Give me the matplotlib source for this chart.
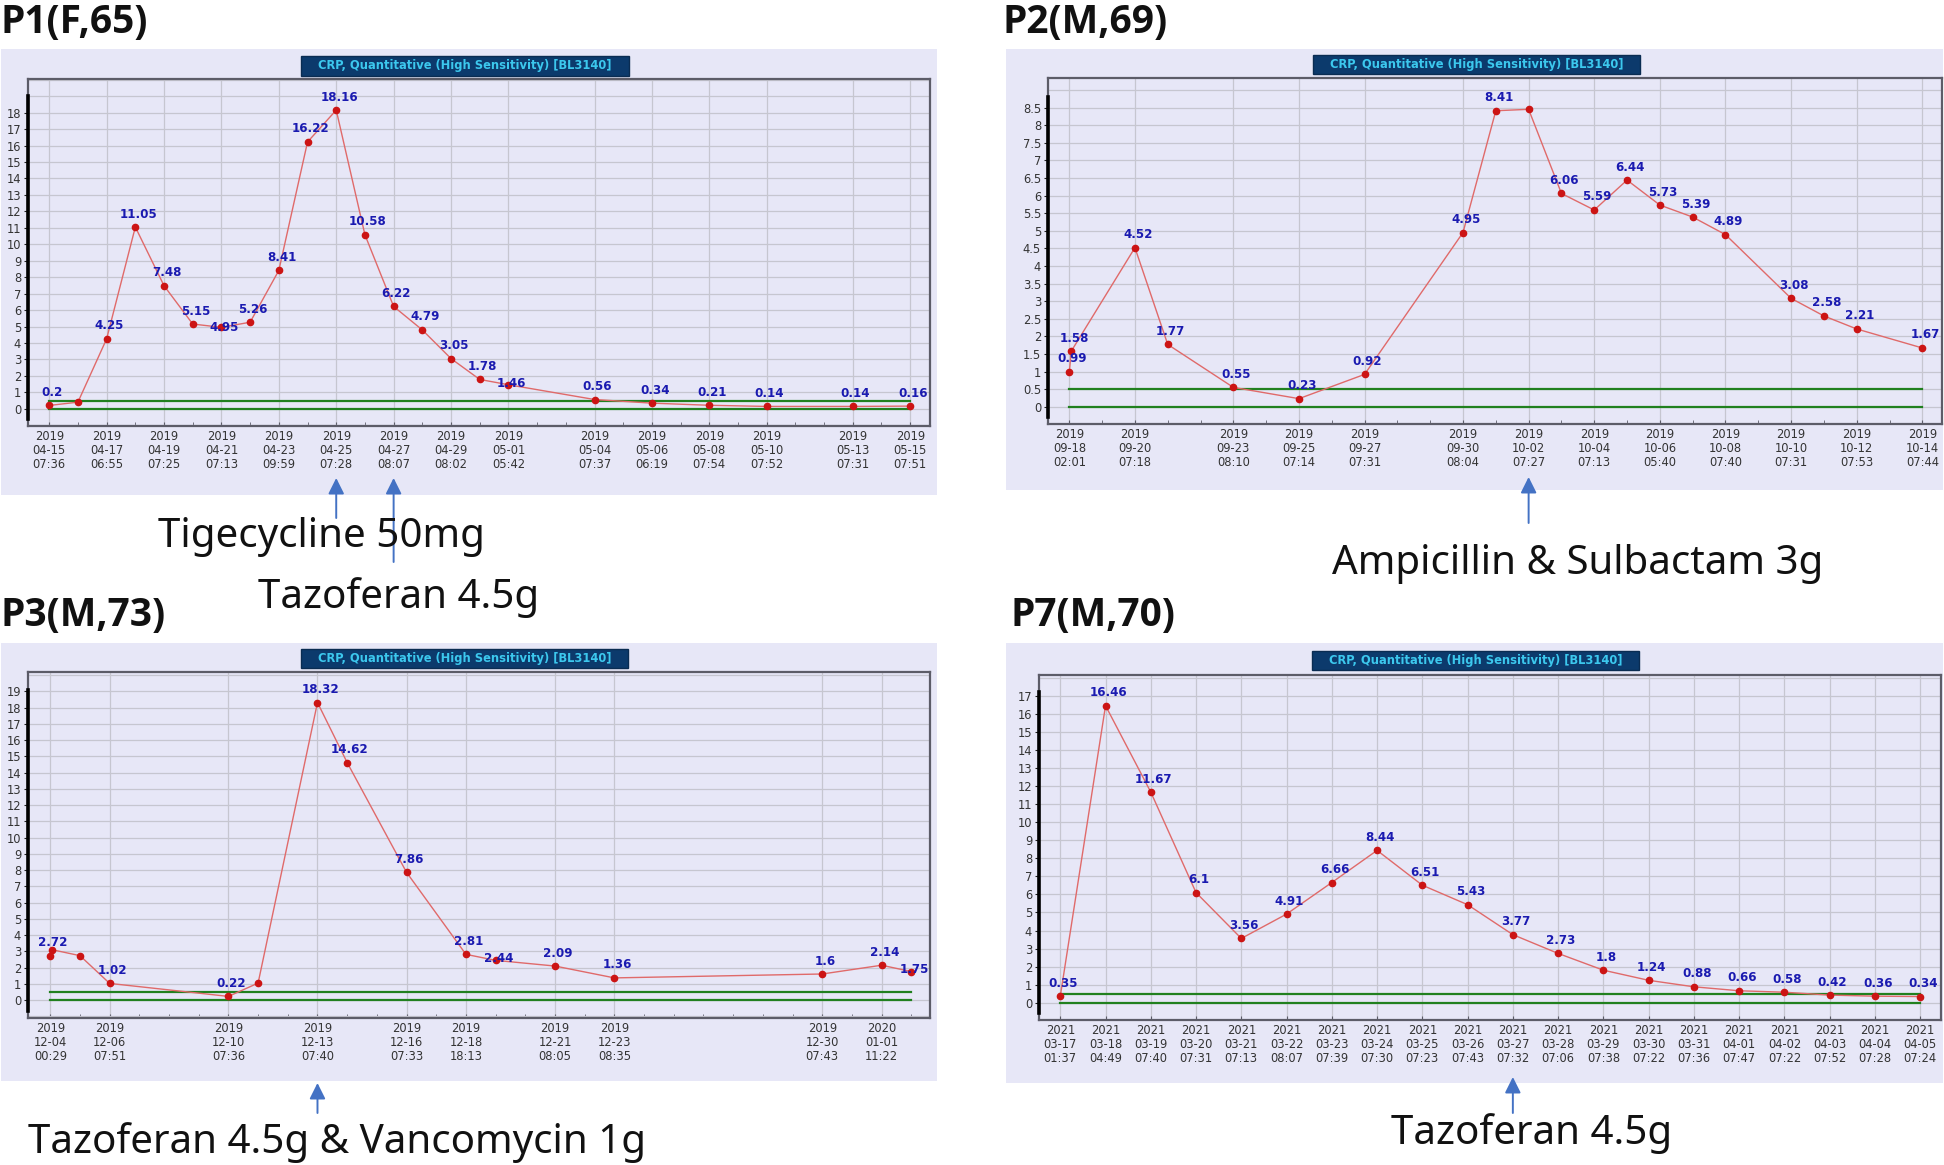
import numpy as np
import pandas as pd
import matplotlib.pyplot as plt
from matplotlib.patches import Rectangle
from matplotlib.ticker import FixedLocator, FuncFormatter

W, H = 1944, 1165

# ---------------- data ----------------
# P1 (F,65): day offset from 2019-04-15, CRP value
p1_days = [0, 1, 2, 3, 4, 5, 6, 7, 8, 9, 10, 11, 12, 13, 14, 15, 16, 19, 21, 23, 25, 28, 30]
p1_crp = [0.2, 0.4, 4.25, 11.05, 7.48, 5.15, 4.95, 5.26, 8.41, 16.22, 18.16, 10.58, 6.22,
          4.79, 3.05, 1.78, 1.46, 0.56, 0.34, 0.21, 0.14, 0.14, 0.16]
p1_hide = [1]
p1_ticks = ['2019-04-15 07:36', '2019-04-17 06:55', '2019-04-19 07:25', '2019-04-21 07:13',
            '2019-04-23 09:59', '2019-04-25 07:28', '2019-04-27 08:07', '2019-04-29 08:02',
            '2019-05-01 05:42', '2019-05-04 07:37', '2019-05-06 06:19', '2019-05-08 07:54',
            '2019-05-10 07:52', '2019-05-13 07:31', '2019-05-15 07:51']
p1_drugs = [('Tigecycline 50mg', 10), ('Tazoferan 4.5g', 12)]

# P2 (M,69): day offset from 2019-09-18
p2_days = [0, 0.06, 2, 3, 5, 7, 9, 12, 13, 14, 15, 16, 17, 18, 19, 20, 22, 23, 24, 26]
p2_crp = [0.99, 1.58, 4.52, 1.77, 0.55, 0.23, 0.92, 4.95, 8.41, 8.45, 6.06, 5.59, 6.44,
          5.73, 5.39, 4.89, 3.08, 2.58, 2.21, 1.67]
p2_hide = [9]
p2_ticks = ['2019-09-18 02:01', '2019-09-20 07:18', '2019-09-23 08:10', '2019-09-25 07:14',
            '2019-09-27 07:31', '2019-09-30 08:04', '2019-10-02 07:27', '2019-10-04 07:13',
            '2019-10-06 05:40', '2019-10-08 07:40', '2019-10-10 07:31', '2019-10-12 07:53',
            '2019-10-14 07:44']
p2_drugs = [('Ampicillin & Sulbactam 3g', 14)]

# P3 (M,73): day offset from 2019-12-04
p3_days = [0, 0.05, 1, 2, 6, 7, 9, 10, 12, 14, 15, 17, 19, 26, 28, 29]
p3_crp = [2.72, 3.1, 2.73, 1.02, 0.22, 1.04, 18.32, 14.62, 7.86, 2.81, 2.44, 2.09, 1.36,
          1.6, 2.14, 1.75]
p3_hide = [1, 2, 5]
p3_ticks = ['2019-12-04 00:29', '2019-12-06 07:51', '2019-12-10 07:36', '2019-12-13 07:40',
            '2019-12-16 07:33', '2019-12-18 18:13', '2019-12-21 08:05', '2019-12-23 08:35',
            '2019-12-30 07:43', '2020-01-01 11:22']
p3_drugs = [('Tazoferan 4.5g & Vancomycin 1g', 9)]

# P7 (M,70): day offset from 2021-03-17
p7_days = list(range(20))
p7_crp = [0.35, 16.46, 11.67, 6.1, 3.56, 4.91, 6.66, 8.44, 6.51, 5.43, 3.77, 2.73, 1.8,
          1.24, 0.88, 0.66, 0.58, 0.42, 0.36, 0.34]
p7_hide = []
p7_ticks = ['2021-03-17 01:37', '2021-03-18 04:49', '2021-03-19 07:40', '2021-03-20 07:31',
            '2021-03-21 07:13', '2021-03-22 08:07', '2021-03-23 07:39', '2021-03-24 07:30',
            '2021-03-25 07:23', '2021-03-26 07:43', '2021-03-27 07:32', '2021-03-28 07:06',
            '2021-03-29 07:38', '2021-03-30 07:22', '2021-03-31 07:36', '2021-04-01 07:47',
            '2021-04-02 07:22', '2021-04-03 07:52', '2021-04-04 07:28', '2021-04-05 07:24']
p7_drugs = [('Tazoferan 4.5g', 10)]

ref_low, ref_high = 0, 0.5
chart_title = 'CRP, Quantitative (High Sensitivity) [BL3140]'

# ---------------- layout (pixels, top-left origin) ----------------
panels = [
    dict(name='P1(F,65)', name_xy=(0, 33), bg=(1, 49, 937, 495), plot=(28, 79, 930, 426),
         box=(301, 56, 629, 76), days=p1_days, crp=p1_crp, hide=p1_hide, ticks=p1_ticks,
         lift={6: 0, 16: 1}, xlim=(-0.74, 30.69), ylim=(-1.05, 20.05), ystep=1, ytop=18,
         gtop=20, spine=(-0.6, 19.0), drugs=p1_drugs,
         arrows=[(478, 518), (478, 562)], texts=[(158, 547), (258, 608)]),
    dict(name='P2(M,69)', name_xy=(1002, 33), bg=(1006, 49, 1943, 490), plot=(1048, 78, 1942, 424),
         box=(1313, 55, 1640, 74), days=p2_days, crp=p2_crp, hide=p2_hide, ticks=p2_ticks,
         lift={}, xlim=(-0.65, 26.6), ylim=(-0.49, 9.34), ystep=0.5, ytop=8.5,
         gtop=9, spine=(-0.28, 8.8), drugs=p2_drugs,
         arrows=[(477, 523)], texts=[(1332, 574)]),
    dict(name='P3(M,73)', name_xy=(0, 626), bg=(1, 643, 937, 1081), plot=(28, 672, 930, 1018),
         box=(301, 649, 628, 668), days=p3_days, crp=p3_crp, hide=p3_hide, ticks=p3_ticks,
         lift={10: 2, 15: 2}, xlim=(-0.75, 29.63), ylim=(-1.11, 20.2), ystep=1, ytop=19,
         gtop=20, spine=(-0.66, 19.1), drugs=p3_drugs,
         arrows=[(1083, 1113)], texts=[(28, 1153)]),
    dict(name='P7(M,70)', name_xy=(1010, 626), bg=(1006, 643, 1943, 1083), plot=(1039, 675, 1941, 1020),
         box=(1312, 651, 1639, 670), days=p7_days, crp=p7_crp, hide=p7_hide, ticks=p7_ticks,
         lift={}, xlim=(-0.47, 19.46), ylim=(-0.96, 18.16), ystep=1, ytop=17,
         gtop=18, spine=(-0.56, 17.2), drugs=p7_drugs,
         arrows=[(1077, 1113)], texts=[(1391, 1144)]),
]

BG = '#e7e7f7'
GRID = '#c6c6d0'
FRAME = '#5c5c68'
LINE = '#e06a6a'
DOT = '#cc1414'
LABEL = '#1a1ab0'
GREEN = '#21801f'
ARROW = '#4472c4'


def frac(l, t, r, b):
    return [l / W, 1 - b / H, (r - l) / W, (b - t) / H]


fig = plt.figure(figsize=(W / 100, H / 100), dpi=100)
fig.patch.set_facecolor('white')

for p in panels:
    l, t, r, b = p['bg']
    fig.add_artist(Rectangle((l / W, 1 - b / H), (r - l) / W, (b - t) / H,
                             transform=fig.transFigure, facecolor=BG, edgecolor='none', zorder=0))
    fig.text(p['name_xy'][0] / W, 1 - p['name_xy'][1] / H, p['name'], ha='left', va='baseline',
             fontsize=28, fontweight='bold', family=['Open Sans', 'DejaVu Sans'], color='#111111')

    ax = fig.add_axes(frac(*p['plot']), zorder=2)
    ax.set_facecolor(BG)
    days = np.array(p['days'])
    crp = np.array(p['crp'])

    # reference band lines
    ax.plot([days[0], days[-1]], [ref_high, ref_high], color=GREEN, lw=1.6, zorder=2)
    ax.plot([days[0], days[-1]], [ref_low, ref_low], color=GREEN, lw=1.6, zorder=2)

    ax.plot(days, crp, color=LINE, lw=1.0, zorder=3)
    ax.plot(days, crp, 'o', color=DOT, ms=4.5, zorder=4)

    for i, (d, v) in enumerate(zip(days, crp)):
        if i in p['hide']:
            continue
        dy = p['lift'].get(i, 13) / 1.389
        ax.annotate(f'{v:g}', (d, v), xytext=(2, dy), textcoords='offset points',
                    ha='center', va='center', fontsize=8.6, fontweight='bold',
                    color=LABEL, zorder=5)

    ax.set_xlim(*p['xlim'])
    ax.set_ylim(*p['ylim'])

    # x ticks from measurement dates
    start = pd.Timestamp(p['ticks'][0][:10])
    pos = [(pd.Timestamp(s[:10]) - start).days for s in p['ticks']]
    labs = [s[:4] + '\n' + s[5:10] + '\n' + s[11:] for s in p['ticks']]
    ax.set_xticks(pos)
    ax.set_xticklabels(labs, fontsize=8.3, color='#333333', linespacing=1.1)
    ax.xaxis.set_minor_locator(FixedLocator(np.arange(0, int(p['xlim'][1]) + 1)))
    ax.tick_params(axis='x', which='both', direction='in', length=3, color=FRAME, pad=3)

    # y ticks
    ax.yaxis.set_major_locator(FixedLocator(np.arange(0, p['ytop'] + 1e-9, p['ystep'])))
    ax.yaxis.set_minor_locator(FixedLocator(np.arange(-1, p['gtop'] + 1e-9, p['ystep'])))
    ax.yaxis.set_major_formatter(FuncFormatter(lambda v, _: f'{v:g}'))
    ax.tick_params(axis='y', which='major', direction='out', length=3, color='#222222',
                   labelsize=8.3, labelcolor='#333333', pad=2)
    ax.tick_params(axis='y', which='minor', length=0)

    ax.xaxis.grid(True, which='major', color=GRID, lw=0.9)
    ax.yaxis.grid(True, which='both', color=GRID, lw=0.9)
    ax.set_axisbelow(True)

    for s in ax.spines.values():
        s.set_color(FRAME)
        s.set_linewidth(1.6)
    ax.plot([0, 0], list(p['spine']), transform=ax.get_yaxis_transform(), color='black',
            lw=2.6, clip_on=False, zorder=6)

    # chart header box
    l, t, r, b = p['box']
    fig.add_artist(Rectangle((l / W, 1 - b / H), (r - l) / W, (b - t) / H,
                             transform=fig.transFigure, facecolor='#0c3a6c',
                             edgecolor='#0a2c52', lw=1, zorder=3))
    fig.text((l + r) / 2 / W, 1 - (t + b) / 2 / H, chart_title, ha='center', va='center',
             fontsize=8.3, fontweight='bold', color='#3cc8ee', zorder=4)

    # drug start arrows and names
    for (drug, day), (ytip, ytail), (tx, ty) in zip(p['drugs'], p['arrows'], p['texts']):
        ax.annotate('', xy=(day, H - ytip), xytext=(day, H - ytail),
                    xycoords=('data', 'figure pixels'), textcoords=('data', 'figure pixels'),
                    arrowprops=dict(arrowstyle='-|>', color=ARROW, lw=1.4, mutation_scale=24,
                                    shrinkA=0, shrinkB=0),
                    annotation_clip=False)
        fig.text(tx / W, 1 - ty / H, drug, ha='left', va='baseline', fontsize=29,
                 family='Noto Sans', color='#111111')

fig.savefig('out.png', dpi=100)
